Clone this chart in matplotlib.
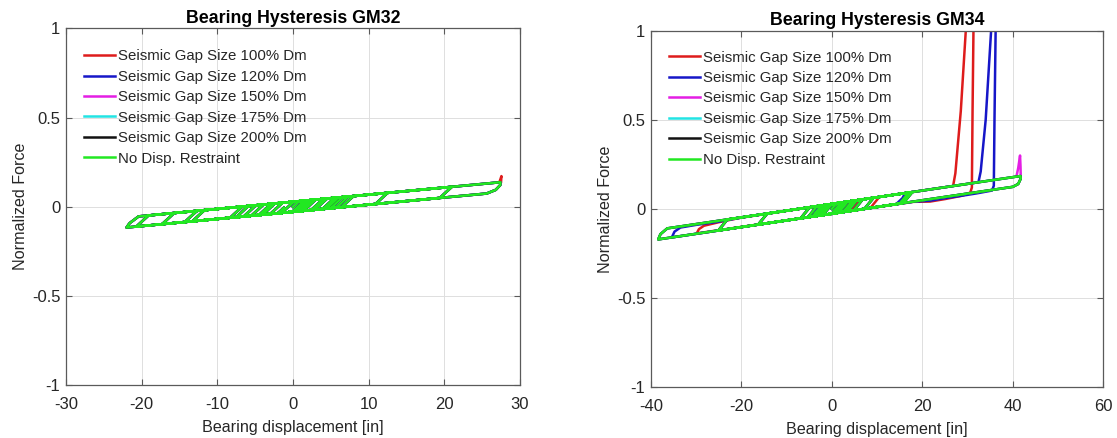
import matplotlib
matplotlib.use("Agg")
import matplotlib.pyplot as plt

plt.rcParams['font.family'] = ['Liberation Sans', 'DejaVu Sans']

# ---------------------------------------------------------------------------
# Series labels and colours
# ---------------------------------------------------------------------------
series_labels = [
    "Seismic Gap Size 100% Dm",
    "Seismic Gap Size 120% Dm",
    "Seismic Gap Size 150% Dm",
    "Seismic Gap Size 175% Dm",
    "Seismic Gap Size 200% Dm",
    "No Disp. Restraint",
]
series_colors = ["#de1c1c", "#1616c8", "#e41ee4", "#22e4e4", "#111111", "#22e822"]

# ---------------------------------------------------------------------------
# GM32: bearing displacement [in] and normalized force (no restraint engaged
# except a brief contact for the 100% Dm gap at the largest excursion)
# ---------------------------------------------------------------------------
gm32_disp = [0, 0.8, 2, 0.4, -1.5, 0.1, 3, 1.4, -3, -1.4, 4, 2.4, -4.5, -2.9,
             5.5, 3.9, -5.5, -3.9, 6.6, 5.0, -7.5, -5.9, 8, 6.4, -8.3, -6.7,
             12.5, 10.9, -14.3, -12.7, 21, 19.4, -17.3, -15.7, 27.4, 27.4,
             26.8, 25.6, -22, -21.6, -20.4, 7.3, 5.7, -20.7, -19.1, 6, 4.4,
             -13.3, -11.7, 4.5, 2.9, -6.5, -4.9, 2.5, 0.9, -4, -2.4, 1.5,
             -0.1, -2, -1.2]
gm32_force = [0, 0.0312, 0.036, -0.0264, -0.034, 0.0284, 0.040, -0.0224,
              -0.040, 0.0224, 0.044, -0.0184, -0.046, 0.0164, 0.050, -0.0124,
              -0.050, 0.0124, 0.0544, -0.008, -0.058, 0.0044, 0.060, -0.0024,
              -0.0612, 0.0012, 0.078, 0.0156, -0.0852, -0.0228, 0.112, 0.0496,
              -0.0972, -0.0348, 0.1376, 0.122, 0.095, 0.0744, -0.116, -0.092,
              -0.0536, 0.0572, -0.0052, -0.1108, -0.0484, 0.052, -0.0104,
              -0.0812, -0.0188, 0.046, -0.0164, -0.054, 0.0084, 0.038, -0.0244,
              -0.044, 0.0184, 0.034, -0.0284, -0.036, -0.005]
gm32_contact100_disp = [27.25, 27.4, 27.55, 27.5]
gm32_contact100_force = [0.136, 0.152, 0.172, 0.14]

# ---------------------------------------------------------------------------
# GM34: history shared by all cases until the first large excursion
# ---------------------------------------------------------------------------
gm34_early_disp = [0, 1.0, 2.5, 0.5, -2, 0, 3.5, 1.5, -3, -1, 4.5, 2.5, -4.2,
                   -2.2, 5.5, 3.5, -5.3, -3.3, 6.8, 4.8, -6.9, -4.9, 9.2, 7.2,
                   -16.3, -14.3, 17.0, 15.0, -25.1, -23.1]
gm34_early_force = [0, 0.0313, 0.0369, -0.0251, -0.0345, 0.0275, 0.0407,
                    -0.0213, -0.0383, 0.0237, 0.0445, -0.0176, -0.0428, 0.0192,
                    0.0482, -0.0138, -0.0470, 0.0151, 0.0531, -0.0089, -0.0530,
                    0.0090, 0.0622, 0.0001, -0.0884, -0.0264, 0.0916, 0.0296,
                    -0.1216, -0.0596]

# Unrestrained bearing (also 175% / 200% Dm gaps, never reached)
gm34_free_disp = [41.7, 41.75, 41.2, 40.0, -38.4, -37.9, -36.4, 17.8, 15.8,
                  -4.2, -2.2, 5.0, 3.0, -3.5, -1.5, 3.0, 1.0, -2.5, -0.5, 2.0,
                  0.0]
gm34_free_force = [0.1847, 0.170, 0.140, 0.1238, -0.1718, -0.142, -0.1097,
                   0.0946, 0.0326, -0.0428, 0.0192, 0.0464, -0.0157, -0.0402,
                   0.0218, 0.0388, -0.0232, -0.0364, 0.0256, 0.0350, -0.027]

# 100% Dm gap: impact near 27 in
gm34_gap100_disp = [26.8, 27.3, 28.5, 29.6, 30.0, 31.4, 31.3, 31.1, 30.95,
                    30.6, 29.0, 25.0, 21.7, 18.0, -29.9, -29.4, -28.3, -25.0,
                    -20.3, 10.5, 8.5, -4.5, -2.5, 6.2, 4.2, -3.8, -1.8, 4.0,
                    2.0, -2.5, -0.5, 2.5, 0.5]
gm34_gap100_force = [0.1285, 0.20, 0.55, 1.0, 1.2, 1.2, 1.0, 0.55, 0.12,
                     0.092, 0.075, 0.055, 0.041, 0.0395, -0.138, -0.114,
                     -0.095, -0.075, -0.0505, 0.0671, 0.0050, -0.0440, 0.0181,
                     0.0509, -0.0112, -0.0413, 0.0207, 0.0426, -0.0195,
                     -0.0364, 0.0256, 0.0369, -0.0251]

# 120% Dm gap: impact near 32.5 in
gm34_gap120_disp = [32.4, 32.9, 34.0, 35.2, 35.5, 36.3, 36.2, 35.95, 35.8,
                    35.4, 32.0, 29.8, 25.0, 21.7, 18.0, -35.4, -34.8, -33.5,
                    -30.0, -25.5, -22.0, -18.0, 16.2, 15.6, 14.2, -5.0, -3.0,
                    5.0, 3.0, -3.0, -1.0, 3.0, 1.0, -1.5]
gm34_gap120_force = [0.1496, 0.21, 0.50, 1.0, 1.2, 1.2, 1.0, 0.50, 0.13,
                     0.103, 0.087, 0.078, 0.060, 0.046, 0.040, -0.1605,
                     -0.128, -0.105, -0.090, -0.074, -0.058, -0.0405, 0.0886,
                     0.060, 0.0265, -0.0459, 0.0162, 0.0464, -0.0157, -0.0383,
                     0.0237, 0.0388, -0.0232, -0.0327]

# 150% Dm gap: brief contact at the largest positive excursion
gm34_contact150_disp = [40.8, 41.2, 41.6, 41.7, 41.75]
gm34_contact150_force = [0.1813, 0.23, 0.30, 0.24, 0.19]

# Axis ticks
y_ticks = [-1, -0.5, 0, 0.5, 1]
y_tick_labels = ["-1", "-0.5", "0", "0.5", "1"]
gm32_x_ticks = [-30, -20, -10, 0, 10, 20, 30]
gm34_x_ticks = [-40, -20, 0, 20, 40, 60]

# ---------------------------------------------------------------------------
fig = plt.figure(figsize=(11.17, 4.38), dpi=100)
ax1 = fig.add_axes([0.0591, 0.1203, 0.4064, 0.8151])
ax2 = fig.add_axes([0.5828, 0.1171, 0.4049, 0.8121])

LW = 1.8
TEXT = "#262626"
TICK_FS = 12


def style_axes(ax, xticks, xlim, title):
    ax.set_xlim(*xlim)
    ax.set_ylim(-1, 1)
    ax.set_xticks(xticks)
    ax.set_xticklabels([str(t) for t in xticks])
    ax.set_yticks(y_ticks)
    ax.set_yticklabels(y_tick_labels)
    ax.grid(True, color="#dedede", linewidth=0.7)
    ax.set_axisbelow(True)
    for s in ax.spines.values():
        s.set_color("#5a5a5a")
        s.set_linewidth(0.9)
    ax.tick_params(axis="both", direction="in", length=4, width=0.8,
                   color="#5a5a5a", labelsize=TICK_FS, labelcolor=TEXT,
                   top=True, right=True)
    ax.tick_params(axis="x", pad=8.5)
    ax.tick_params(axis="y", pad=4)
    ax.set_xlabel("Bearing displacement [in]", fontsize=11.6, color=TEXT,
                  labelpad=6)
    ax.set_ylabel("Normalized Force", fontsize=11.6, color=TEXT, labelpad=3)
    ax.set_title(title, fontsize=12.8, fontweight="bold", pad=4)


# GM32 panel: gaps never engaged except a brief 100% Dm contact
for lbl, col in zip(series_labels, series_colors):
    ax1.plot(gm32_disp, gm32_force, color=col, lw=LW, label=lbl)
    if lbl == series_labels[0]:
        ax1.plot(gm32_contact100_disp, gm32_contact100_force, color=col, lw=LW)
style_axes(ax1, gm32_x_ticks, (-30, 30), "Bearing Hysteresis GM32")

# GM34 panel
traces34 = [
    (gm34_early_disp + gm34_gap100_disp, gm34_early_force + gm34_gap100_force),
    (gm34_early_disp + gm34_gap120_disp, gm34_early_force + gm34_gap120_force),
    (gm34_early_disp + gm34_free_disp, gm34_early_force + gm34_free_force),
    (gm34_early_disp + gm34_free_disp, gm34_early_force + gm34_free_force),
    (gm34_early_disp + gm34_free_disp, gm34_early_force + gm34_free_force),
    (gm34_early_disp + gm34_free_disp, gm34_early_force + gm34_free_force),
]
for (xs, fs), lbl, col in zip(traces34, series_labels, series_colors):
    ax2.plot(xs, fs, color=col, lw=LW, label=lbl)
    if lbl == series_labels[2]:
        ax2.plot(gm34_contact150_disp, gm34_contact150_force, color=col, lw=LW)
style_axes(ax2, gm34_x_ticks, (-40, 60), "Bearing Hysteresis GM34")

for ax, anchor in ((ax1, (0.0396, 0.941)), (ax2, (0.0398, 0.945))):
    ax.legend(loc="upper left", bbox_to_anchor=anchor, frameon=False,
              fontsize=10.8, handlelength=2.07, handletextpad=0.22,
              labelspacing=0.43, borderpad=0, borderaxespad=0,
              labelcolor=TEXT)

fig.savefig("out.png", dpi=100)
